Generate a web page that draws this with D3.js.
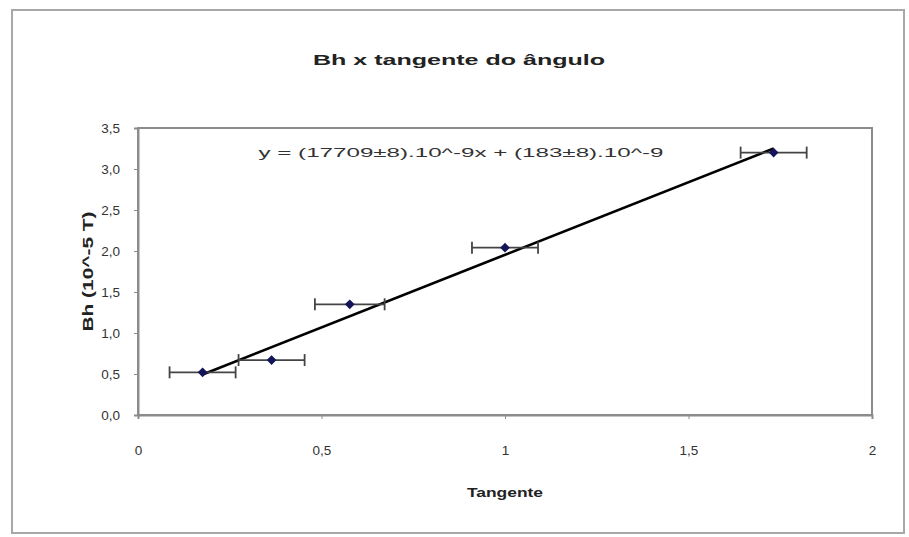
<!DOCTYPE html>
<html>
<head>
<meta charset="utf-8">
<script src="https://cdn.jsdelivr.net/npm/d3@7"></script>
<style>
  body { margin: 0; background: #fff; }
  text { font-family: "Liberation Sans", Arial, sans-serif; }
</style>
</head>
<body>
<div id="app"></div>
<script>
// data
const tangente = [0.176, 0.364, 0.577, 1.0, 1.732];
const bh = [0.52, 0.67, 1.35, 2.04, 3.20];
const xErr = [0.09, 0.09, 0.095, 0.09, 0.09];
const fitSlope = 1.7709;
const fitIntercept = 0.183;
const xTicks = [0, 0.5, 1, 1.5, 2];
const yTicks = [0, 0.5, 1, 1.5, 2, 2.5, 3, 3.5];

const w = 909, h = 537;
const plotL = 138, plotR = 872, plotT = 128, plotB = 415;

const svg = d3.select("#app").append("svg")
    .attr("width", w)
    .attr("height", h);

// outer chart frame
svg.append("rect")
    .attr("x", 12).attr("y", 10)
    .attr("width", 892).attr("height", 523)
    .attr("fill", "#fff")
    .attr("stroke", "#a8a8a8")
    .attr("stroke-width", 2);

const xScale = d3.scaleLinear().domain([0, 2]).range([plotL, plotR]);
const yScale = d3.scaleLinear().domain([0, 3.5]).range([plotB, plotT]);

const fmt = d => String(d).replace(".", ",");
const fmtY = d => d.toFixed(1).replace(".", ",");

// plot area
svg.append("rect")
    .attr("x", plotL).attr("y", plotT)
    .attr("width", plotR - plotL).attr("height", plotB - plotT)
    .attr("fill", "#fff")
    .attr("stroke", "#8c8c8c")
    .attr("stroke-width", 2);

const xAxis = d3.axisBottom(xScale).tickValues(xTicks).tickFormat(fmt).tickSize(4).tickPadding(26);
const yAxis = d3.axisLeft(yScale).tickValues(yTicks).tickFormat(fmtY).tickSize(4).tickPadding(14);

const gx = svg.append("g")
    .attr("transform", "translate(0," + plotB + ")")
    .call(xAxis);
const gy = svg.append("g")
    .attr("transform", "translate(" + plotL + ",0)")
    .call(yAxis);

[gx, gy].forEach(g => {
    g.select(".domain").attr("stroke", "#8c8c8c").attr("stroke-width", 2);
    g.selectAll(".tick line").attr("stroke", "#8c8c8c");
    g.selectAll(".tick text")
        .attr("fill", "#333")
        .style("font-size", "13.5px")
        .style("font-family", "'Liberation Sans', Arial, sans-serif");
});

// fitted line
const xs = d3.extent(tangente);
svg.append("line")
    .attr("x1", xScale(xs[0])).attr("y1", yScale(fitSlope * xs[0] + fitIntercept))
    .attr("x2", xScale(xs[1])).attr("y2", yScale(fitSlope * xs[1] + fitIntercept))
    .attr("stroke", "#000")
    .attr("stroke-width", 2.6);

const pts = tangente.map((t, i) => ({ x: t, y: bh[i], e: xErr[i] }));

// horizontal error bars
const eb = svg.selectAll(".err").data(pts).enter().append("g").attr("class", "err")
    .attr("stroke", "#444").attr("stroke-width", 1.8);
eb.append("line")
    .attr("x1", d => xScale(d.x - d.e)).attr("x2", d => xScale(d.x + d.e))
    .attr("y1", d => yScale(d.y)).attr("y2", d => yScale(d.y));
eb.append("line")
    .attr("x1", d => xScale(d.x - d.e)).attr("x2", d => xScale(d.x - d.e))
    .attr("y1", d => yScale(d.y) - 6).attr("y2", d => yScale(d.y) + 6);
eb.append("line")
    .attr("x1", d => xScale(d.x + d.e)).attr("x2", d => xScale(d.x + d.e))
    .attr("y1", d => yScale(d.y) - 6).attr("y2", d => yScale(d.y) + 6);

// diamond markers
svg.selectAll(".pt").data(pts).enter().append("path")
    .attr("class", "pt")
    .attr("d", d3.symbol().type(d3.symbolDiamond2).size(60))
    .attr("transform", d => "translate(" + xScale(d.x) + "," + yScale(d.y) + ")")
    .attr("fill", "#14145a");

// title
svg.append("text")
    .attr("x", 459).attr("y", 65)
    .attr("text-anchor", "middle")
    .attr("textLength", 292).attr("lengthAdjust", "spacingAndGlyphs")
    .style("font-size", "15px").style("font-weight", "bold").attr("fill", "#222")
    .text("Bh x tangente do ângulo");

// fit equation
svg.append("text")
    .attr("x", 461).attr("y", 157)
    .attr("text-anchor", "middle")
    .attr("textLength", 405).attr("lengthAdjust", "spacingAndGlyphs")
    .style("font-size", "13px").attr("fill", "#333")
    .text("y = (17709±8).10^-9x + (183±8).10^-9");

// axis titles
svg.append("text")
    .attr("x", (plotL + plotR) / 2).attr("y", 497)
    .attr("text-anchor", "middle")
    .attr("textLength", 76).attr("lengthAdjust", "spacingAndGlyphs")
    .style("font-size", "13px").style("font-weight", "bold").attr("fill", "#222")
    .text("Tangente");

svg.append("text")
    .attr("transform", "translate(93," + ((plotT + plotB) / 2) + ") rotate(-90)")
    .attr("text-anchor", "middle")
    .attr("textLength", 120).attr("lengthAdjust", "spacingAndGlyphs")
    .style("font-size", "14px").style("font-weight", "bold").attr("fill", "#222")
    .text("Bh (10^-5 T)");
</script>
</body>
</html>
